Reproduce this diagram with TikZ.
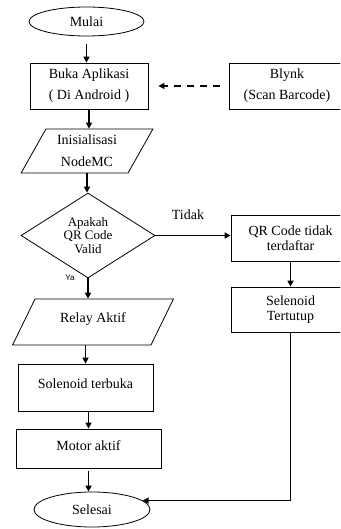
\documentclass[tikz,border=0pt]{standalone}
\usepackage{fontspec}
\setmainfont{Liberation Serif}
\newfontfamily\labelsans{Liberation Sans}
\usetikzlibrary{shapes.geometric,arrows.meta}
\begin{document}
\begin{tikzpicture}[x=1pt,y=-1pt,
  base/.style={draw, line width=0.8pt, font=\fontsize{14}{15}\selectfont, align=center, inner sep=0pt},
  term/.style={base, ellipse},
  procbox/.style={base, rectangle},
  iobox/.style={base, trapezium, trapezium stretches=true},
  decbox/.style={base, diamond, font=\fontsize{13}{13.5}\selectfont},
  arr/.style={line width=1.5pt, -{Triangle[length=6pt,width=6pt]}},
  lbl/.style={font=\fontsize{14}{15}\selectfont, inner sep=0pt}]
\useasboundingbox (0,0) rectangle (340,529);
\clip (0,0) rectangle (340,529);
\node[term, minimum width=115pt, minimum height=29pt] (mulai) at (86.5,21.5) {Mulai};
\node[procbox, minimum width=118pt, minimum height=46pt, font=\fontsize{14}{21}\selectfont] (buka) at (89,86) {Buka Aplikasi\\( Di Android )};
\node[procbox, minimum width=116pt, minimum height=46pt, font=\fontsize{14}{21}\selectfont] (blynk) at (287,86) {Blynk\\(Scan Barcode)};
\node[iobox, trapezium left angle=60.4, trapezium right angle=119.6, minimum width=132pt, minimum height=44pt, font=\fontsize{14}{22}\selectfont] (ini) at (87,151) {Inisialisasi\\NodeMC};
\node[decbox, minimum width=134pt, minimum height=83pt] (dia) at (88,235.5) {Apakah\\QR Code\\Valid};
\node[procbox, minimum width=119pt, minimum height=46pt] (qr) at (290.5,238) {QR Code tidak\\terdaftar};
\node[procbox, minimum width=119pt, minimum height=45pt] (tutup) at (290.5,309.5) {Selenoid\\Tertutup};
\node[iobox, trapezium left angle=56, trapezium right angle=124, minimum width=162pt, minimum height=46pt, text depth=9pt] (relay) at (93,322) {Relay Aktif};
\node[procbox, minimum width=135pt, minimum height=47pt, text depth=8pt] (terbuka) at (85.5,387.5) {Solenoid terbuka};
\node[procbox, minimum width=145pt, minimum height=39pt, text depth=6pt] (motor) at (88.5,448.5) {Motor aktif};
\node[term, minimum width=116pt, minimum height=35pt] (selesai) at (92,509.5) {Selesai};
\node[lbl] (tidak) at (188,215) {Tidak};
\node[font=\labelsans\fontsize{8}{9}\selectfont, inner sep=0pt] (ya) at (70,278) {Ya};
\draw[arr, shorten <=8pt] (mulai.south) -- (mulai.south |- buka.north);
\draw[arr] (buka.south) -- (buka.south |- ini.north);
\draw[arr] (ini.south) -- (ini.south |- dia.north);
\draw[arr] (dia.south) -- (dia.south |- relay.north);
\draw[arr] (relay.south -| terbuka.north) -- (terbuka.north);
\draw[arr] (terbuka.south -| motor.north) -- (motor.north);
\draw[arr, shorten <=3pt] (motor.south) -- (motor.south |- selesai.north);
\draw[arr, dash pattern=on 7pt off 6pt, shorten <=9pt, shorten >=10pt] (blynk.west) -- (blynk.west -| buka.east);
\draw[arr] (dia.east) -- (dia.east -| qr.west);
\draw[arr] (qr.south) -- (tutup.north);
\draw[arr] (tutup.south) |- (selesai.10);
\end{tikzpicture}
\end{document}
